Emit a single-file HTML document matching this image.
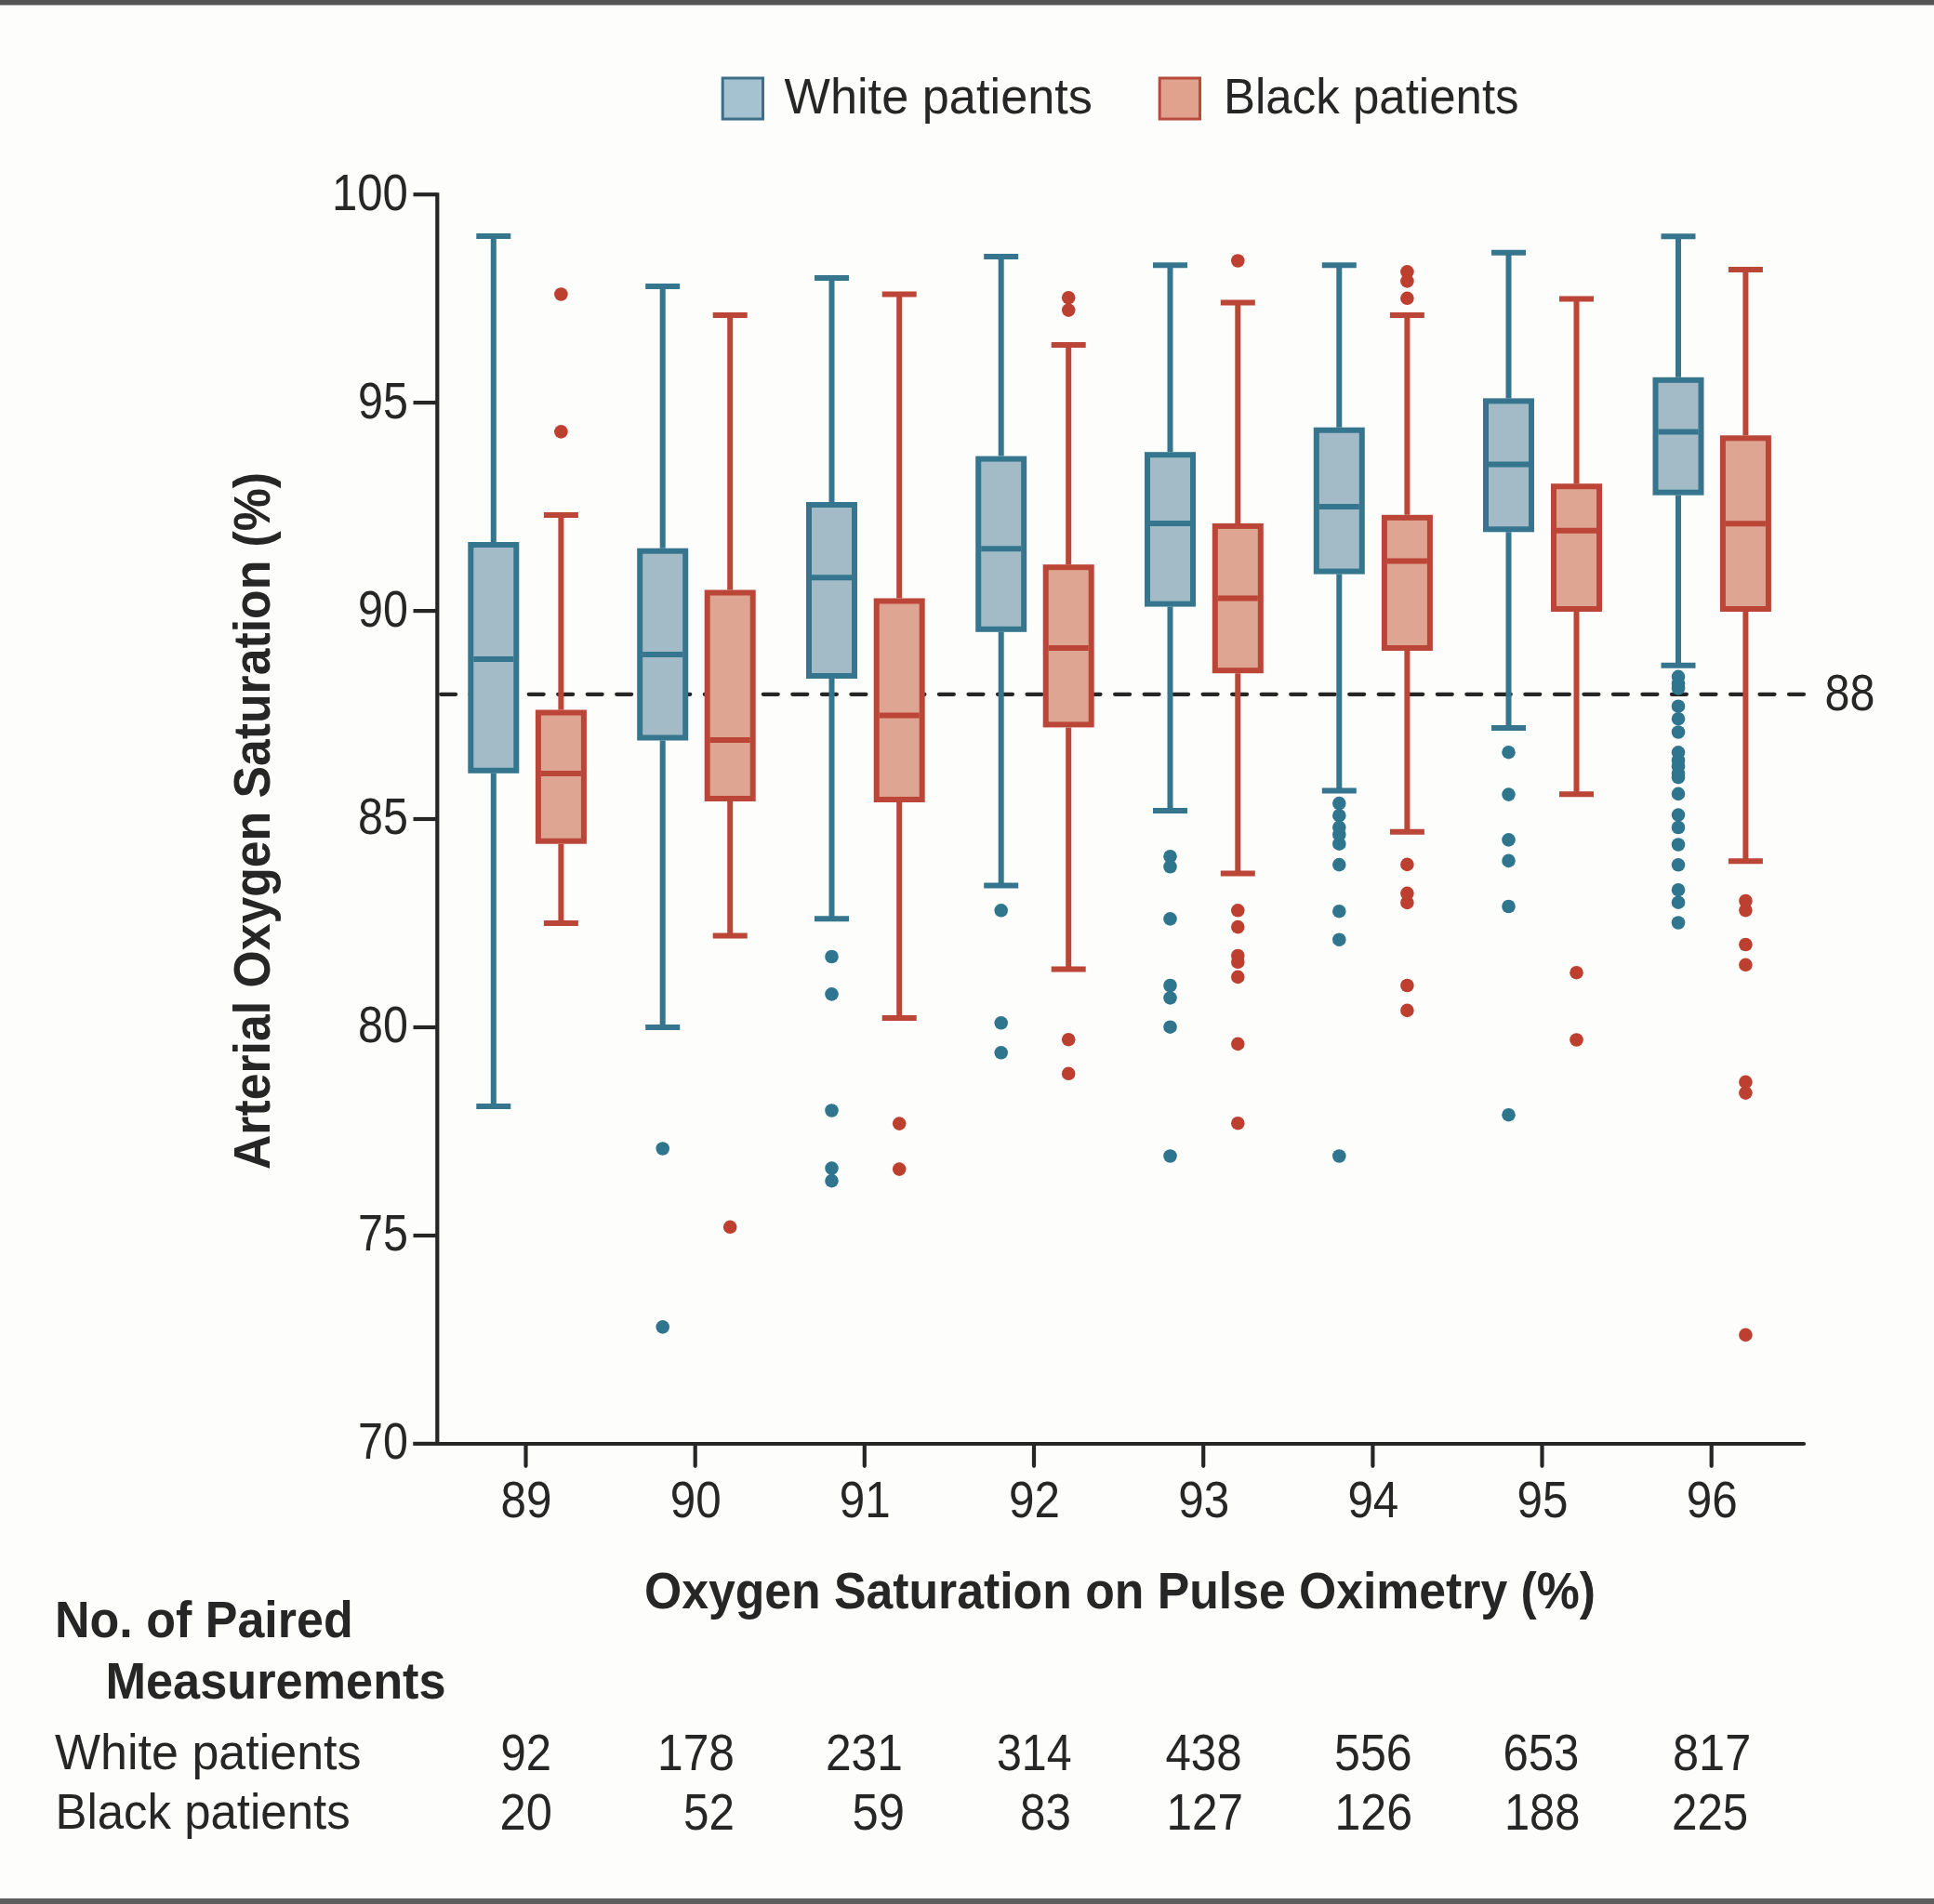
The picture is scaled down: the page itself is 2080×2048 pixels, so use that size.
<!DOCTYPE html>
<html><head><meta charset="utf-8"><style>
html,body{margin:0;padding:0;background:#fdfdfc;}
body{width:2080px;height:2048px;overflow:hidden;position:relative;}
.frame{position:absolute;left:0;top:0;width:2080px;height:2048px;}
text{font-family:"Liberation Sans",sans-serif;fill:#262626;}
.t54{font-size:54px;}
.t55{font-size:55px;}
.d55{font-size:55px;}
.b56{font-size:56px;font-weight:bold;}
</style></head><body>
<svg class="frame" width="2080" height="2048" viewBox="0 0 2080 2048">
<rect x="0" y="0" width="2080" height="2048" fill="#fdfdfc"/>
<rect x="0" y="0" width="2080" height="5.5" fill="#545454"/>
<rect x="0" y="2042" width="2080" height="6" fill="#5e5e5e"/>
<rect x="777.2" y="84" width="43.3" height="44" fill="#a5c2d0" stroke="#3e6f89" stroke-width="3"/>
<rect x="1247.2" y="84" width="43.3" height="44" fill="#e0a18d" stroke="#b94b3c" stroke-width="3"/>
<text x="843.5" y="122" textLength="331.52" lengthAdjust="spacingAndGlyphs" class="t54">White patients</text>
<text x="1316.0" y="122" textLength="317.63" lengthAdjust="spacingAndGlyphs" class="t54">Black patients</text>
<g stroke="#262626" stroke-width="4.2" stroke-linecap="butt"><line x1="470.3" y1="207.2" x2="470.3" y2="1555" /><line x1="444.5" y1="1553" x2="1940" y2="1553" /><line x1="444.5" y1="1552.9" x2="470.3" y2="1552.9" /><line x1="444.5" y1="1329" x2="470.3" y2="1329" /><line x1="444.5" y1="1105" x2="470.3" y2="1105" /><line x1="444.5" y1="881" x2="470.3" y2="881" /><line x1="444.5" y1="657.1" x2="470.3" y2="657.1" /><line x1="444.5" y1="433.1" x2="470.3" y2="433.1" /><line x1="444.5" y1="209.2" x2="470.3" y2="209.2" /><line x1="565.5" y1="1553" x2="565.5" y2="1576.8" stroke-linecap="round"/><line x1="747.7" y1="1553" x2="747.7" y2="1576.8" stroke-linecap="round"/><line x1="929.8" y1="1553" x2="929.8" y2="1576.8" stroke-linecap="round"/><line x1="1112" y1="1553" x2="1112" y2="1576.8" stroke-linecap="round"/><line x1="1294.2" y1="1553" x2="1294.2" y2="1576.8" stroke-linecap="round"/><line x1="1476.4" y1="1553" x2="1476.4" y2="1576.8" stroke-linecap="round"/><line x1="1658.5" y1="1553" x2="1658.5" y2="1576.8" stroke-linecap="round"/><line x1="1840.7" y1="1553" x2="1840.7" y2="1576.8" stroke-linecap="round"/></g>
<line x1="1930" y1="1553" x2="1940" y2="1553" stroke="#262626" stroke-width="4.2" stroke-linecap="round"/>
<path d="M474.1 746.8H490.1M505.6 746.8H521.6M537.1 746.8H553.1M568.7 746.8H584.7M600.2 746.8H616.2M631.7 746.8H647.7M663.2 746.8H679.2M694.7 746.8H710.7M726.3 746.8H742.3M757.8 746.8H773.8M789.3 746.8H805.3M820.8 746.8H836.8M852.3 746.8H868.3M883.9 746.8H899.9M915.4 746.8H931.4M946.9 746.8H962.9M978.4 746.8H994.4M1009.9 746.8H1025.9M1041.5 746.8H1057.5M1073 746.8H1089M1104.5 746.8H1120.5M1136 746.8H1152M1167.5 746.8H1183.5M1199.1 746.8H1215.1M1230.6 746.8H1246.6M1262.1 746.8H1278.1M1293.6 746.8H1309.6M1325.1 746.8H1341.1M1356.7 746.8H1372.7M1388.2 746.8H1404.2M1419.7 746.8H1435.7M1451.2 746.8H1467.2M1482.7 746.8H1498.7M1514.3 746.8H1530.3M1545.8 746.8H1561.8M1577.3 746.8H1593.3M1608.8 746.8H1624.8M1640.3 746.8H1656.3M1671.9 746.8H1687.9M1703.4 746.8H1719.4M1734.9 746.8H1750.9M1766.4 746.8H1782.4M1797.9 746.8H1813.9M1829.5 746.8H1845.5M1861 746.8H1877M1892.5 746.8H1908.5M1924 746.8H1940" stroke="#262626" stroke-width="4.2" stroke-linecap="round" fill="none"/>
<g stroke="#35758e" stroke-width="6" fill="none"><line x1="530.8" y1="254" x2="530.8" y2="583" /><line x1="530.8" y1="831.8" x2="530.8" y2="1190" /><line x1="512.3" y1="254" x2="549.3" y2="254" /><line x1="512.3" y1="1190" x2="549.3" y2="1190" /><rect x="506.3" y="586" width="49" height="242.8" fill="#a2bbc7" /><line x1="509.3" y1="708.9" x2="552.3" y2="708.9" /></g><g fill="#2f758e"></g>
<g stroke="#bb4536" stroke-width="6" fill="none"><line x1="603.4" y1="554" x2="603.4" y2="763.5" /><line x1="603.4" y1="907.7" x2="603.4" y2="993" /><line x1="584.9" y1="554" x2="621.9" y2="554" /><line x1="584.9" y1="993" x2="621.9" y2="993" /><rect x="578.9" y="766.5" width="49" height="138.2" fill="#dea593" /><line x1="581.9" y1="831.9" x2="624.9" y2="831.9" /></g><g fill="#bd3f30"><circle cx="603.4" cy="316.5" r="7.3" /><circle cx="603.4" cy="464.4" r="7.3" /></g>
<g stroke="#35758e" stroke-width="6" fill="none"><line x1="712.7" y1="307.9" x2="712.7" y2="589.7" /><line x1="712.7" y1="796.5" x2="712.7" y2="1105" /><line x1="694.2" y1="307.9" x2="731.2" y2="307.9" /><line x1="694.2" y1="1105" x2="731.2" y2="1105" /><rect x="688.2" y="592.7" width="49" height="200.8" fill="#a2bbc7" /><line x1="691.2" y1="704" x2="734.2" y2="704" /></g><g fill="#2f758e"><circle cx="712.7" cy="1235.5" r="7.3" /><circle cx="712.7" cy="1427.4" r="7.3" /></g>
<g stroke="#bb4536" stroke-width="6" fill="none"><line x1="785.2" y1="339" x2="785.2" y2="634.5" /><line x1="785.2" y1="862" x2="785.2" y2="1006.5" /><line x1="766.7" y1="339" x2="803.7" y2="339" /><line x1="766.7" y1="1006.5" x2="803.7" y2="1006.5" /><rect x="760.7" y="637.5" width="49" height="221.5" fill="#dea593" /><line x1="763.7" y1="796" x2="806.7" y2="796" /></g><g fill="#bd3f30"><circle cx="785.2" cy="1319.8" r="7.3" /></g>
<g stroke="#35758e" stroke-width="6" fill="none"><line x1="894.5" y1="298.9" x2="894.5" y2="540" /><line x1="894.5" y1="730" x2="894.5" y2="988.3" /><line x1="876" y1="298.9" x2="913" y2="298.9" /><line x1="876" y1="988.3" x2="913" y2="988.3" /><rect x="870" y="543" width="49" height="184" fill="#a2bbc7" /><line x1="873" y1="621.3" x2="916" y2="621.3" /></g><g fill="#2f758e"><circle cx="894.5" cy="1029" r="7.3" /><circle cx="894.5" cy="1069.4" r="7.3" /><circle cx="894.5" cy="1194.5" r="7.3" /><circle cx="894.5" cy="1256.6" r="7.3" /><circle cx="894.5" cy="1270.1" r="7.3" /></g>
<g stroke="#bb4536" stroke-width="6" fill="none"><line x1="967.2" y1="316.5" x2="967.2" y2="643.5" /><line x1="967.2" y1="863" x2="967.2" y2="1095" /><line x1="948.7" y1="316.5" x2="985.7" y2="316.5" /><line x1="948.7" y1="1095" x2="985.7" y2="1095" /><rect x="942.7" y="646.5" width="49" height="213.5" fill="#dea593" /><line x1="945.7" y1="769.6" x2="988.7" y2="769.6" /></g><g fill="#bd3f30"><circle cx="967.2" cy="1208.6" r="7.3" /><circle cx="967.2" cy="1257.6" r="7.3" /></g>
<g stroke="#35758e" stroke-width="6" fill="none"><line x1="1076.7" y1="276.1" x2="1076.7" y2="490.6" /><line x1="1076.7" y1="679.8" x2="1076.7" y2="952.4" /><line x1="1058.2" y1="276.1" x2="1095.2" y2="276.1" /><line x1="1058.2" y1="952.4" x2="1095.2" y2="952.4" /><rect x="1052.2" y="493.6" width="49" height="183.2" fill="#a2bbc7" /><line x1="1055.2" y1="590.2" x2="1098.2" y2="590.2" /></g><g fill="#2f758e"><circle cx="1076.7" cy="979.3" r="7.3" /><circle cx="1076.7" cy="1100.3" r="7.3" /><circle cx="1076.7" cy="1132.3" r="7.3" /></g>
<g stroke="#bb4536" stroke-width="6" fill="none"><line x1="1149.2" y1="371" x2="1149.2" y2="607.2" /><line x1="1149.2" y1="782.4" x2="1149.2" y2="1042.6" /><line x1="1130.7" y1="371" x2="1167.7" y2="371" /><line x1="1130.7" y1="1042.6" x2="1167.7" y2="1042.6" /><rect x="1124.7" y="610.2" width="49" height="169.2" fill="#dea593" /><line x1="1127.7" y1="697" x2="1170.7" y2="697" /></g><g fill="#bd3f30"><circle cx="1149.2" cy="320.2" r="7.3" /><circle cx="1149.2" cy="333.6" r="7.3" /><circle cx="1149.2" cy="1118.2" r="7.3" /><circle cx="1149.2" cy="1154.8" r="7.3" /></g>
<g stroke="#35758e" stroke-width="6" fill="none"><line x1="1258.5" y1="285.2" x2="1258.5" y2="486.2" /><line x1="1258.5" y1="652.6" x2="1258.5" y2="872" /><line x1="1240" y1="285.2" x2="1277" y2="285.2" /><line x1="1240" y1="872" x2="1277" y2="872" /><rect x="1234" y="489.2" width="49" height="160.4" fill="#a2bbc7" /><line x1="1237" y1="562.9" x2="1280" y2="562.9" /></g><g fill="#2f758e"><circle cx="1258.5" cy="921.2" r="7.3" /><circle cx="1258.5" cy="932.3" r="7.3" /><circle cx="1258.5" cy="988.4" r="7.3" /><circle cx="1258.5" cy="1060" r="7.3" /><circle cx="1258.5" cy="1073.4" r="7.3" /><circle cx="1258.5" cy="1104.7" r="7.3" /><circle cx="1258.5" cy="1243.5" r="7.3" /></g>
<g stroke="#bb4536" stroke-width="6" fill="none"><line x1="1331.3" y1="325.5" x2="1331.3" y2="562.9" /><line x1="1331.3" y1="724.2" x2="1331.3" y2="939.6" /><line x1="1312.8" y1="325.5" x2="1349.8" y2="325.5" /><line x1="1312.8" y1="939.6" x2="1349.8" y2="939.6" /><rect x="1306.8" y="565.9" width="49" height="155.3" fill="#dea593" /><line x1="1309.8" y1="643.5" x2="1352.8" y2="643.5" /></g><g fill="#bd3f30"><circle cx="1331.3" cy="280.5" r="7.3" /><circle cx="1331.3" cy="979.3" r="7.3" /><circle cx="1331.3" cy="997.1" r="7.3" /><circle cx="1331.3" cy="1028" r="7.3" /><circle cx="1331.3" cy="1034.8" r="7.3" /><circle cx="1331.3" cy="1050.9" r="7.3" /><circle cx="1331.3" cy="1122.9" r="7.3" /><circle cx="1331.3" cy="1208.2" r="7.3" /></g>
<g stroke="#35758e" stroke-width="6" fill="none"><line x1="1440.3" y1="285.2" x2="1440.3" y2="459.7" /><line x1="1440.3" y1="617.6" x2="1440.3" y2="850.6" /><line x1="1421.8" y1="285.2" x2="1458.8" y2="285.2" /><line x1="1421.8" y1="850.6" x2="1458.8" y2="850.6" /><rect x="1415.8" y="462.7" width="49" height="151.9" fill="#a2bbc7" /><line x1="1418.8" y1="544.9" x2="1461.8" y2="544.9" /></g><g fill="#2f758e"><circle cx="1440.3" cy="864.1" r="7.3" /><circle cx="1440.3" cy="877.2" r="7.3" /><circle cx="1440.3" cy="889.9" r="7.3" /><circle cx="1440.3" cy="897.7" r="7.3" /><circle cx="1440.3" cy="907.7" r="7.3" /><circle cx="1440.3" cy="930.1" r="7.3" /><circle cx="1440.3" cy="980.2" r="7.3" /><circle cx="1440.3" cy="1010.7" r="7.3" /><circle cx="1440.3" cy="1243.5" r="7.3" /></g>
<g stroke="#bb4536" stroke-width="6" fill="none"><line x1="1513.4" y1="339" x2="1513.4" y2="553.8" /><line x1="1513.4" y1="700" x2="1513.4" y2="894.8" /><line x1="1494.9" y1="339" x2="1531.9" y2="339" /><line x1="1494.9" y1="894.8" x2="1531.9" y2="894.8" /><rect x="1488.9" y="556.8" width="49" height="140.2" fill="#dea593" /><line x1="1491.9" y1="603.5" x2="1534.9" y2="603.5" /></g><g fill="#bd3f30"><circle cx="1513.4" cy="292.3" r="7.3" /><circle cx="1513.4" cy="302.4" r="7.3" /><circle cx="1513.4" cy="320.8" r="7.3" /><circle cx="1513.4" cy="929.9" r="7.3" /><circle cx="1513.4" cy="960.8" r="7.3" /><circle cx="1513.4" cy="970.9" r="7.3" /><circle cx="1513.4" cy="1060" r="7.3" /><circle cx="1513.4" cy="1086.9" r="7.3" /></g>
<g stroke="#35758e" stroke-width="6" fill="none"><line x1="1622.5" y1="271.7" x2="1622.5" y2="428.4" /><line x1="1622.5" y1="572.3" x2="1622.5" y2="783" /><line x1="1604" y1="271.7" x2="1641" y2="271.7" /><line x1="1604" y1="783" x2="1641" y2="783" /><rect x="1598" y="431.4" width="49" height="137.9" fill="#a2bbc7" /><line x1="1601" y1="499.5" x2="1644" y2="499.5" /></g><g fill="#2f758e"><circle cx="1622.5" cy="809.2" r="7.3" /><circle cx="1622.5" cy="854.6" r="7.3" /><circle cx="1622.5" cy="903.4" r="7.3" /><circle cx="1622.5" cy="925.9" r="7.3" /><circle cx="1622.5" cy="975" r="7.3" /><circle cx="1622.5" cy="1199.2" r="7.3" /></g>
<g stroke="#bb4536" stroke-width="6" fill="none"><line x1="1695.5" y1="321.5" x2="1695.5" y2="520.2" /><line x1="1695.5" y1="658" x2="1695.5" y2="854.3" /><line x1="1677" y1="321.5" x2="1714" y2="321.5" /><line x1="1677" y1="854.3" x2="1714" y2="854.3" /><rect x="1671" y="523.2" width="49" height="131.8" fill="#dea593" /><line x1="1674" y1="570.8" x2="1717" y2="570.8" /></g><g fill="#bd3f30"><circle cx="1695.5" cy="1046.2" r="7.3" /><circle cx="1695.5" cy="1118.5" r="7.3" /></g>
<g stroke="#35758e" stroke-width="6" fill="none"><line x1="1805" y1="254.2" x2="1805" y2="405.8" /><line x1="1805" y1="532.7" x2="1805" y2="715.8" /><line x1="1786.5" y1="254.2" x2="1823.5" y2="254.2" /><line x1="1786.5" y1="715.8" x2="1823.5" y2="715.8" /><rect x="1780.5" y="408.8" width="49" height="120.9" fill="#a2bbc7" /><line x1="1783.5" y1="464.6" x2="1826.5" y2="464.6" /></g><g fill="#2f758e"><circle cx="1805" cy="727.8" r="7.3" /><circle cx="1805" cy="735.4" r="7.3" /><circle cx="1805" cy="740.4" r="7.3" /><circle cx="1805" cy="759.7" r="7.3" /><circle cx="1805" cy="773.2" r="7.3" /><circle cx="1805" cy="787.5" r="7.3" /><circle cx="1805" cy="809.3" r="7.3" /><circle cx="1805" cy="817.7" r="7.3" /><circle cx="1805" cy="824.5" r="7.3" /><circle cx="1805" cy="832" r="7.3" /><circle cx="1805" cy="836.2" r="7.3" /><circle cx="1805" cy="853.9" r="7.3" /><circle cx="1805" cy="876.6" r="7.3" /><circle cx="1805" cy="890" r="7.3" /><circle cx="1805" cy="908.5" r="7.3" /><circle cx="1805" cy="930.3" r="7.3" /><circle cx="1805" cy="957.2" r="7.3" /><circle cx="1805" cy="970.7" r="7.3" /><circle cx="1805" cy="992.5" r="7.3" /></g>
<g stroke="#bb4536" stroke-width="6" fill="none"><line x1="1877.4" y1="290" x2="1877.4" y2="468.3" /><line x1="1877.4" y1="658" x2="1877.4" y2="926.2" /><line x1="1858.9" y1="290" x2="1895.9" y2="290" /><line x1="1858.9" y1="926.2" x2="1895.9" y2="926.2" /><rect x="1852.9" y="471.3" width="49" height="183.7" fill="#dea593" /><line x1="1855.9" y1="563.2" x2="1898.9" y2="563.2" /></g><g fill="#bd3f30"><circle cx="1877.4" cy="969" r="7.3" /><circle cx="1877.4" cy="979.1" r="7.3" /><circle cx="1877.4" cy="1016" r="7.3" /><circle cx="1877.4" cy="1037.8" r="7.3" /><circle cx="1877.4" cy="1163.9" r="7.3" /><circle cx="1877.4" cy="1175.6" r="7.3" /><circle cx="1877.4" cy="1435.9" r="7.3" /></g>
<text x="385" y="1569.3" textLength="53.81" lengthAdjust="spacingAndGlyphs" class="d55">70</text>
<text x="385" y="1345.4" textLength="53.81" lengthAdjust="spacingAndGlyphs" class="d55">75</text>
<text x="385" y="1121.4" textLength="53.81" lengthAdjust="spacingAndGlyphs" class="d55">80</text>
<text x="385" y="897.4" textLength="53.81" lengthAdjust="spacingAndGlyphs" class="d55">85</text>
<text x="385" y="673.5" textLength="53.81" lengthAdjust="spacingAndGlyphs" class="d55">90</text>
<text x="385" y="449.5" textLength="53.81" lengthAdjust="spacingAndGlyphs" class="d55">95</text>
<text x="357.0" y="225.6" textLength="81.89" lengthAdjust="spacingAndGlyphs" class="d55">100</text>
<text x="1962.5" y="763.6" textLength="53.82" lengthAdjust="spacingAndGlyphs" class="d55">88</text>
<text x="538.5" y="1631.8" textLength="54.9" lengthAdjust="spacingAndGlyphs" class="d55">89</text>
<text x="720.7" y="1631.8" textLength="54.9" lengthAdjust="spacingAndGlyphs" class="d55">90</text>
<text x="902.8" y="1631.8" textLength="54.9" lengthAdjust="spacingAndGlyphs" class="d55">91</text>
<text x="1085" y="1631.8" textLength="54.9" lengthAdjust="spacingAndGlyphs" class="d55">92</text>
<text x="1267.2" y="1631.8" textLength="54.9" lengthAdjust="spacingAndGlyphs" class="d55">93</text>
<text x="1449.4" y="1631.8" textLength="54.9" lengthAdjust="spacingAndGlyphs" class="d55">94</text>
<text x="1631.5" y="1631.8" textLength="54.9" lengthAdjust="spacingAndGlyphs" class="d55">95</text>
<text x="1813.7" y="1631.8" textLength="54.9" lengthAdjust="spacingAndGlyphs" class="d55">96</text>
<text x="693.0" y="1729.5" textLength="1023.02" lengthAdjust="spacingAndGlyphs" class="b56">Oxygen Saturation on Pulse Oximetry (%)</text>
<text transform="translate(289.8 1258.0) rotate(-90)" x="0" y="0" textLength="750.02" lengthAdjust="spacingAndGlyphs" class="b56">Arterial Oxygen Saturation (%)</text>
<text x="59.0" y="1760.7" textLength="320.68" lengthAdjust="spacingAndGlyphs" class="b56">No. of Paired</text>
<text x="113.5" y="1827.3" textLength="366.09" lengthAdjust="spacingAndGlyphs" class="b56">Measurements</text>
<text x="59.0" y="1903.4" textLength="329.52" lengthAdjust="spacingAndGlyphs" class="t54">White patients</text>
<text x="59.5" y="1967.3" textLength="317.10" lengthAdjust="spacingAndGlyphs" class="t54">Black patients</text>
<text x="538.5" y="1904.3" textLength="54.47" lengthAdjust="spacingAndGlyphs" class="t55">92</text>
<text x="537.5" y="1967.6" textLength="56.34" lengthAdjust="spacingAndGlyphs" class="t55">20</text>
<text x="707.0" y="1904.3" textLength="82.88" lengthAdjust="spacingAndGlyphs" class="t55">178</text>
<text x="735.0" y="1967.6" textLength="54.90" lengthAdjust="spacingAndGlyphs" class="t55">52</text>
<text x="888.0" y="1904.3" textLength="82.82" lengthAdjust="spacingAndGlyphs" class="t55">231</text>
<text x="916.5" y="1967.6" textLength="56.44" lengthAdjust="spacingAndGlyphs" class="t55">59</text>
<text x="1072.0" y="1904.3" textLength="80.61" lengthAdjust="spacingAndGlyphs" class="t55">314</text>
<text x="1097.0" y="1967.6" textLength="54.81" lengthAdjust="spacingAndGlyphs" class="t55">83</text>
<text x="1253.5" y="1904.3" textLength="82.09" lengthAdjust="spacingAndGlyphs" class="t55">438</text>
<text x="1254.5" y="1967.6" textLength="82.44" lengthAdjust="spacingAndGlyphs" class="t55">127</text>
<text x="1435.0" y="1904.3" textLength="83.69" lengthAdjust="spacingAndGlyphs" class="t55">556</text>
<text x="1435.5" y="1967.6" textLength="83.44" lengthAdjust="spacingAndGlyphs" class="t55">126</text>
<text x="1616.5" y="1904.3" textLength="81.76" lengthAdjust="spacingAndGlyphs" class="t55">653</text>
<text x="1618.0" y="1967.6" textLength="81.35" lengthAdjust="spacingAndGlyphs" class="t55">188</text>
<text x="1799.0" y="1904.3" textLength="84.27" lengthAdjust="spacingAndGlyphs" class="t55">817</text>
<text x="1798.0" y="1967.6" textLength="82.22" lengthAdjust="spacingAndGlyphs" class="t55">225</text>
</svg>
</body></html>
